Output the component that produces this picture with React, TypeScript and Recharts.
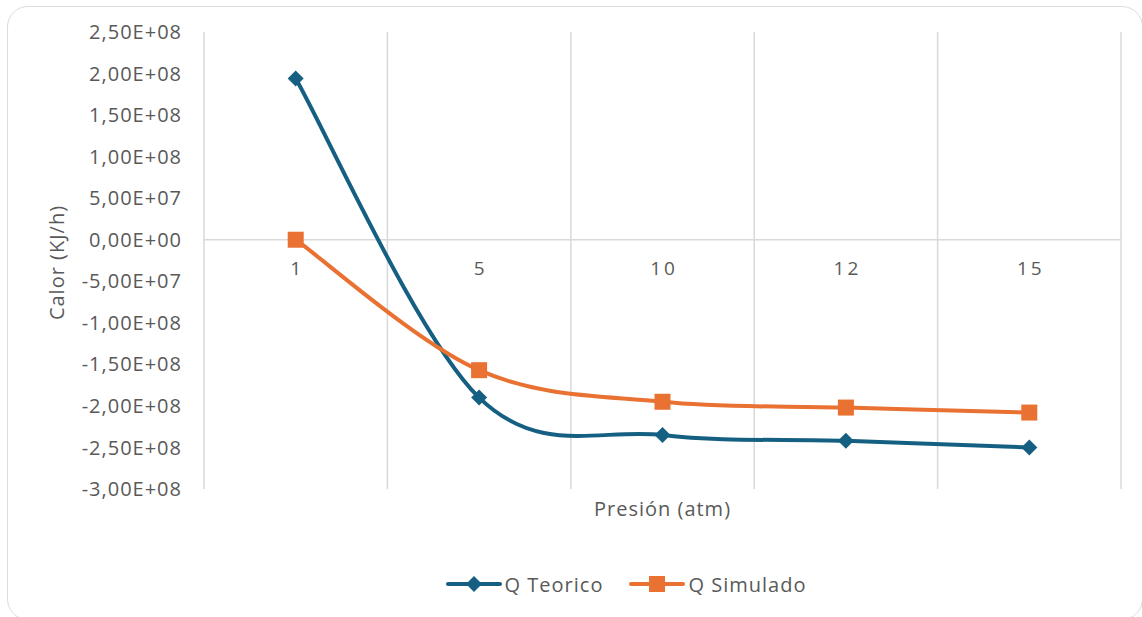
import React from "react";
import {
    LineChart,
    Line,
    XAxis,
    YAxis,
    CartesianGrid,
    ReferenceLine,
    Legend,
} from "recharts";

// pressure categories (atm)
const PRESSURES = ["1", "5", "10", "12", "15"];

// heat duty in KJ/h
const Q_TEORICO = [1.94e8, -1.9e8, -2.35e8, -2.42e8, -2.5e8];
const Q_SIMULADO = [0, -1.57e8, -1.95e8, -2.02e8, -2.08e8];

const Y_TICKS = [
    2.5e8, 2e8, 1.5e8, 1e8, 5e7, 0, -5e7, -1e8, -1.5e8, -2e8, -2.5e8, -3e8,
];

const BLUE = "#156082";
const ORANGE = "#E97132";
const TEXT = "#595959";
const GRID = "#d9d9d9";
const FONT = "'Open Sans', Arial, sans-serif";

const W = 1142;
const H = 617;
const PLOT_TOP = 32;
const PLOT_BOTTOM = 489;
const PLOT_LEFT = 204;
const PLOT_RIGHT = 1121;
const Y_AXIS_W = 150;
const X_AXIS_H = 75;
const LEGEND_H = 40;

const Y_MAX = Y_TICKS[0];
const Y_MIN = Y_TICKS[Y_TICKS.length - 1];
const ZERO_Y = PLOT_TOP + ((PLOT_BOTTOM - PLOT_TOP) * Y_MAX) / (Y_MAX - Y_MIN);
// half a category band on each side so points sit mid-band
const HALF_BAND = (PLOT_RIGHT - PLOT_LEFT) / PRESSURES.length / 2;

const rows = PRESSURES.map((p, i) => ({
    p,
    teorico: Q_TEORICO[i],
    simulado: Q_SIMULADO[i],
}));

// 2.5e8 -> "2,50E+08"
const fmtSci = (v: number) => {
    const [m, e] = v.toExponential(2).split("e");
    const exp = parseInt(e, 10);
    return `${m.replace(".", ",")}E${exp < 0 ? "-" : "+"}${String(Math.abs(exp)).padStart(2, "0")}`;
};

// Catmull-Rom style smoothing like the spreadsheet "smoothed line"
const smoothCurve = (context: any) => {
    let pts: [number, number][] = [];
    return {
        areaStart() {},
        areaEnd() {},
        lineStart() {
            pts = [];
        },
        point(x: number, y: number) {
            pts.push([+x, +y]);
        },
        lineEnd() {
            const n = pts.length;
            if (!n) return;
            context.moveTo(pts[0][0], pts[0][1]);
            for (let i = 0; i < n - 1; i++) {
                const p0 = pts[Math.max(i - 1, 0)];
                const p1 = pts[i];
                const p2 = pts[i + 1];
                const p3 = pts[Math.min(i + 2, n - 1)];
                context.bezierCurveTo(
                    p1[0] + (p2[0] - p0[0]) / 6,
                    p1[1] + (p2[1] - p0[1]) / 6,
                    p2[0] - (p3[0] - p1[0]) / 6,
                    p2[1] - (p3[1] - p1[1]) / 6,
                    p2[0],
                    p2[1]
                );
            }
        },
    };
};

const DiamondDot = (props: any) => {
    const { cx, cy, index } = props;
    return (
        <path
            key={`d-${index}`}
            d={`M${cx},${cy - 8}L${cx + 8},${cy}L${cx},${cy + 8}L${cx - 8},${cy}Z`}
            fill={BLUE}
        />
    );
};

const SquareDot = (props: any) => {
    const { cx, cy, index } = props;
    return <rect key={`s-${index}`} x={cx - 8} y={cy - 8} width={16} height={16} fill={ORANGE} />;
};

// category labels sit just under the zero line
const CategoryTick = (props: any) => {
    const { x, payload } = props;
    return (
        <text
            x={x + 1.5}
            y={ZERO_Y + 35}
            textAnchor="middle"
            fill={TEXT}
            fontSize={19}
            fontFamily={FONT}
            letterSpacing={3}
        >
            {payload.value}
        </text>
    );
};

const XTitle = (props: any) => {
    const { viewBox } = props;
    return (
        <text
            x={viewBox.x + viewBox.width / 2}
            y={viewBox.y + 27}
            textAnchor="middle"
            fill={TEXT}
            fontSize={20}
            fontFamily={FONT}
            letterSpacing={1}
        >
            Presión (atm)
        </text>
    );
};

const YTitle = (props: any) => {
    const { viewBox } = props;
    const cx = 64;
    const cy = viewBox.y + viewBox.height / 2 + 2;
    return (
        <text
            x={cx}
            y={cy}
            transform={`rotate(-90 ${cx} ${cy})`}
            textAnchor="middle"
            fill={TEXT}
            fontSize={20}
            fontFamily={FONT}
            letterSpacing={1}
        >
            Calor (KJ/h)
        </text>
    );
};

const LegendIcon = ({ color, shape }: { color: string; shape: string }) => (
    <svg width={56} height={18} style={{ display: "block" }}>
        <line x1={2} y1={9} x2={54} y2={9} stroke={color} strokeWidth={4} strokeLinecap="round" />
        {shape === "diamond" ? (
            <path d="M28,1L36,9L28,17L20,9Z" fill={color} />
        ) : (
            <rect x={20} y={1} width={16} height={16} fill={color} />
        )}
    </svg>
);

const LegendContent = () => (
    <div
        style={{
            display: "flex",
            justifyContent: "center",
            alignItems: "center",
            gap: 26,
            height: LEGEND_H,
            fontFamily: FONT,
            fontSize: 20,
            letterSpacing: 1,
            color: TEXT,
            paddingLeft: 77,
        }}
    >
        <div style={{ display: "flex", alignItems: "center", gap: 3 }}>
            <LegendIcon color={BLUE} shape="diamond" />
            <span>Q Teorico</span>
        </div>
        <div style={{ display: "flex", alignItems: "center", gap: 3 }}>
            <LegendIcon color={ORANGE} shape="square" />
            <span>Q Simulado</span>
        </div>
    </div>
);

export default function App() {
    return (
        <div style={{ position: "absolute", left: 0, top: 0, width: W, height: H, background: "#fff", overflow: "hidden" }}>
            <div
                style={{
                    position: "absolute",
                    left: 7,
                    top: 6,
                    width: 1136,
                    height: 614,
                    border: "1.5px solid #dcdcdc",
                    borderRadius: 21,
                    boxSizing: "border-box",
                }}
            />
            <div style={{ position: "absolute", left: 0, top: 0 }}>
                <LineChart
                    width={W}
                    height={H}
                    data={rows}
                    margin={{
                        top: PLOT_TOP,
                        right: W - PLOT_RIGHT,
                        left: PLOT_LEFT - Y_AXIS_W,
                        bottom: H - PLOT_BOTTOM - X_AXIS_H - LEGEND_H,
                    }}
                >
                    <CartesianGrid
                        stroke={GRID}
                        strokeWidth={1.5}
                        horizontal={false}
                        verticalCoordinatesGenerator={({ offset }: any) =>
                            Array.from({ length: PRESSURES.length + 1 }, (_, i) =>
                                offset.left + (i * offset.width) / PRESSURES.length
                            )
                        }
                    />
                    <XAxis
                        dataKey="p"
                        height={X_AXIS_H}
                        padding={{ left: HALF_BAND, right: HALF_BAND }}
                        axisLine={false}
                        tickLine={false}
                        tick={<CategoryTick />}
                        interval={0}
                        label={<XTitle />}
                    />
                    <YAxis
                        width={Y_AXIS_W}
                        domain={[Y_MIN, Y_MAX]}
                        ticks={Y_TICKS}
                        interval={0}
                        axisLine={false}
                        tickLine={false}
                        tickMargin={16}
                        tickFormatter={fmtSci}
                        tick={{ fill: TEXT, fontSize: 20, fontFamily: FONT, letterSpacing: 1 }}
                        label={<YTitle />}
                    />
                    <ReferenceLine y={0} stroke={GRID} strokeWidth={1.5} />
                    <Legend verticalAlign="bottom" height={LEGEND_H} content={<LegendContent />} />
                    <Line
                        dataKey="teorico"
                        name="Q Teorico"
                        type={smoothCurve as any}
                        stroke={BLUE}
                        strokeWidth={4}
                        dot={DiamondDot}
                        activeDot={false}
                        isAnimationActive={false}
                    />
                    <Line
                        dataKey="simulado"
                        name="Q Simulado"
                        type={smoothCurve as any}
                        stroke={ORANGE}
                        strokeWidth={4}
                        dot={SquareDot}
                        activeDot={false}
                        isAnimationActive={false}
                    />
                </LineChart>
            </div>
        </div>
    );
}
